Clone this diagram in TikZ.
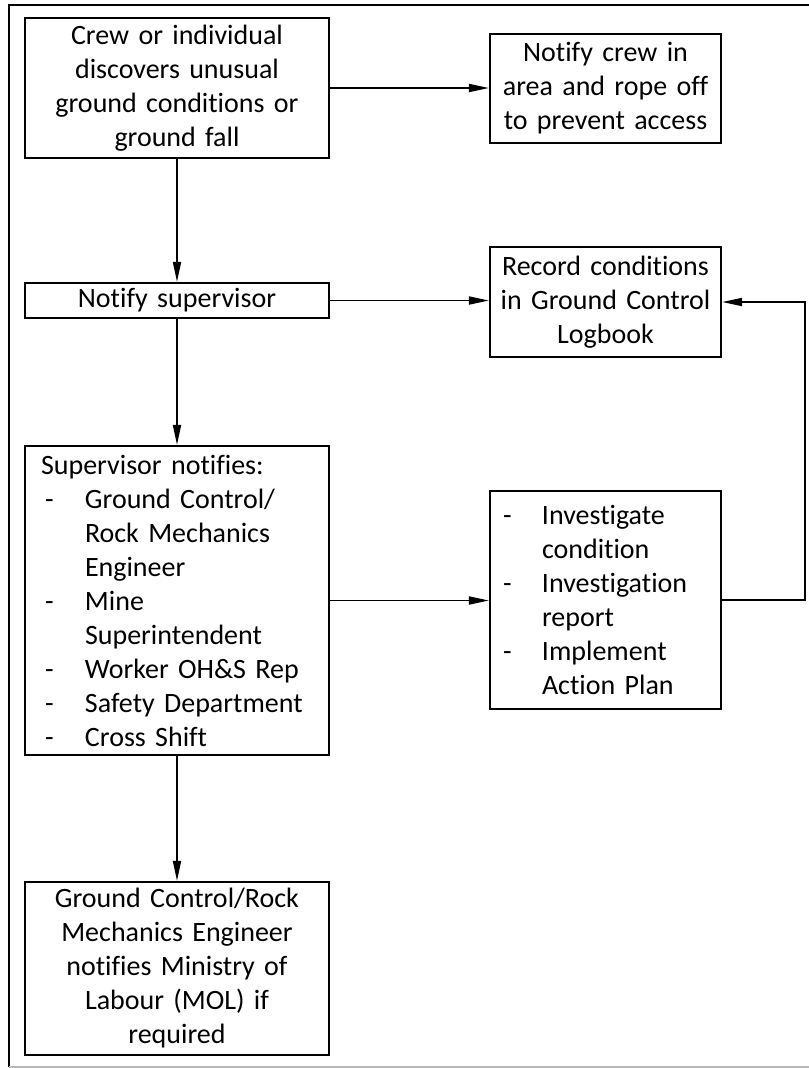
\documentclass[tikz,border=0pt]{standalone}
\usepackage{fontspec}
\setmainfont{Carlito}[Ligatures={NoCommon}, WordSpace=0.85]
\usetikzlibrary{arrows.meta}
% list helpers: dash column and continuation indent
\newcommand\itemdash{\hspace*{3pt}\makebox[30pt][l]{-}}
\newcommand\itemcont{\hspace*{33pt}}
\newcommand\stepdash{\makebox[29.25pt][l]{-}}
\newcommand\stepcont{\hspace*{29.25pt}}
\begin{document}
\begin{tikzpicture}[x=0.75pt,y=-0.75pt,
  every node/.style={font=\fontsize{21pt}{25.5pt}\selectfont},
  box/.style={draw, line width=1.6pt, rectangle, inner sep=0pt, align=center},
  widebox/.style={box, minimum width=228pt, text width=215pt},
  narrowbox/.style={box, minimum width=173.25pt, text width=165pt},
  flow/.style={line width=1.35pt, -{Triangle[length=15pt,width=6pt]}},
  frameline/.style={line width=1.6pt}]
\useasboundingbox (0,0) rectangle (809,1068);
% page frame
\draw[frameline] (9,1067) -- (9,5) -- (809,5);
\draw[gray!55, line width=0.8pt] (9,1067) -- (809,1067);

% left column
\node[widebox, minimum height=105pt] (discover) at (177,88)
  {Crew or individual\\discovers unusual\\ground conditions or\\ground fall};
\node[widebox, minimum height=26.25pt] (notify) at (177,300.5)
  {Notify supervisor};
\node[box, minimum width=228pt, minimum height=231.75pt, text width=204pt,
      inner xsep=12pt, align=left] (supnotify) at (177,600.5)
  {Supervisor notifies:\\
   \itemdash Ground Control/\\
   \itemcont Rock Mechanics\\
   \itemcont Engineer\\
   \itemdash Mine\\
   \itemcont Superintendent\\
   \itemdash Worker OH\&S Rep\\
   \itemdash Safety Department\\
   \itemdash Cross Shift};
\node[widebox, minimum height=129.75pt] (mol) at (177,968.5)
  {Ground Control/Rock\\Mechanics Engineer\\notifies Ministry of\\Labour (MOL) if\\required};

% right column
\node[narrowbox, minimum height=81.75pt] (rope) at (605.5,88.5)
  {Notify crew in\\area and rope off\\to prevent access};
\node[narrowbox, minimum height=82.5pt] (record) at (605.5,302)
  {Record conditions\\in Ground Control\\Logbook};
\node[box, minimum width=173.25pt, minimum height=163.5pt, text width=153.75pt,
      inner xsep=9.75pt, align=left] (investigate) at (605.5,600)
  {\stepdash Investigate\\
   \stepcont condition\\
   \stepdash Investigation\\
   \stepcont report\\
   \stepdash Implement\\
   \stepcont Action Plan};

% connectors
\coordinate (loop) at (805,0);
\draw[flow] (discover.east) -- (discover.east -| rope.west);
\draw[flow] (discover) -- (notify);
\draw[flow] (notify.east) -- (notify.east -| record.west);
\draw[flow] (notify) -- (supnotify);
\draw[flow] (supnotify.east) -- (supnotify.east -| investigate.west);
\draw[flow] (supnotify) -- (mol);
\draw[flow] (investigate.east) -- (investigate.east -| loop) |- (record.east);
\end{tikzpicture}
\end{document}
